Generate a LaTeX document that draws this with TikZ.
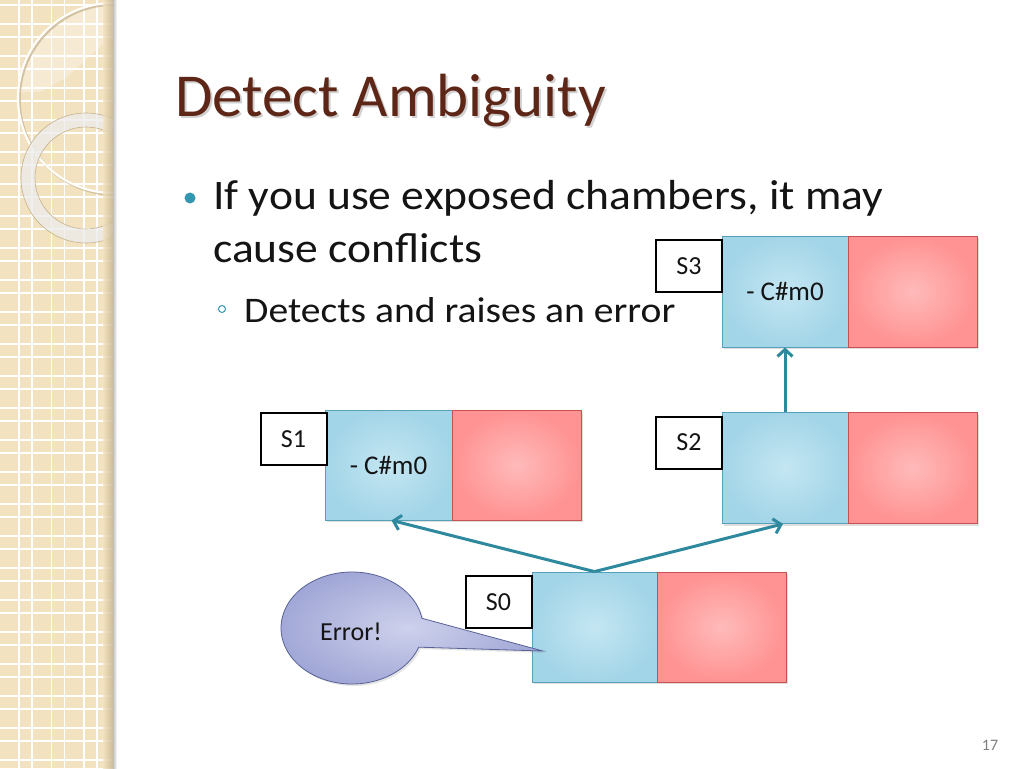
\documentclass[tikz,border=0pt]{standalone}
\usepackage{fontspec}
\setmainfont{Carlito}
\usetikzlibrary{arrows.meta,shadows,calc}
\definecolor{titlec}{RGB}{94,38,22}
\definecolor{arrowc}{RGB}{47,137,158}
\definecolor{bulletc}{RGB}{52,150,176}
\definecolor{bluein}{RGB}{196,230,242}
\definecolor{blueout}{RGB}{163,213,232}
\definecolor{blueedge}{RGB}{86,160,186}
\definecolor{redin}{RGB}{255,186,186}
\definecolor{redout}{RGB}{255,146,146}
\definecolor{rededge}{RGB}{200,80,78}
\definecolor{calin}{RGB}{206,209,236}
\definecolor{calout}{RGB}{160,166,214}
\definecolor{caledge}{RGB}{88,98,150}
\definecolor{stripc}{RGB}{243,226,192}
\definecolor{stripdark}{RGB}{196,178,140}
\definecolor{textc}{RGB}{20,20,20}
\tikzset{
  bluebox/.style={draw=blueedge, line width=0.8pt, inner color=bluein, outer color=blueout,
    minimum width=126pt, minimum height=111pt, inner sep=0pt,
    font=\fontsize{27}{30}\selectfont, text=textc,
    drop shadow={opacity=0.25, shadow xshift=2pt, shadow yshift=-2pt}},
  redbox/.style={draw=rededge, line width=0.8pt, inner color=redin, outer color=redout,
    minimum width=129pt, minimum height=111pt, inner sep=0pt,
    drop shadow={opacity=0.25, shadow xshift=2pt, shadow yshift=-2pt}},
  labbox/.style={draw=black, line width=2pt, fill=white, minimum width=66pt, minimum height=52pt,
    inner sep=0pt, font=\fontsize{26}{30}\selectfont, text=textc},
  conn/.style={draw=arrowc, line width=3pt, -{Straight Barb[length=7pt,width=15pt,line width=3pt]}},
  bodytext/.style={anchor=base west, inner sep=0pt, text=textc}
}
\begin{document}
\begin{tikzpicture}[x=1pt,y=-1pt]
\useasboundingbox (0,0) rectangle (1024,768);
\fill[white] (0,0) rectangle (1024,768);
% ---- decorative strip ----
\fill[stripc] (0,0) rectangle (113,768);
\foreach \x in {19,51.5,84,32,64.5,97}
  \draw[white, line width=1.3pt] (\x,0) -- (\x,768);
\foreach \k in {0,...,23} {
  \draw[white, line width=1.3pt] (0,{5+32*\k}) -- (113,{5+32*\k});
  \draw[white, line width=1.3pt] (0,{24+32*\k}) -- (113,{24+32*\k});
}
\begin{scope}
  \clip (0,0) rectangle (113,768);
  \begin{scope}
    \clip (113,98) circle[radius=95];
    \fill[white, opacity=0.3] (0,0) -- (113,0) -- (113,35) -- (67,77) -- (40,92) -- (0,92) -- cycle;
  \end{scope}
  \draw[stripdark, line width=2.5pt, opacity=0.7] (114.5,99.5) circle[radius=95];
  \draw[white!92!stripc, line width=2.2pt] (113,98) circle[radius=95];
  \draw[white!85!gray, line width=14pt, opacity=0.75] (86,178) circle[radius=58];
  \draw[stripdark, line width=0.6pt] (86,178) circle[radius=65];
  \draw[stripdark, line width=0.6pt] (86,178) circle[radius=51];
\end{scope}
\shade[left color=stripc, right color=stripdark, opacity=0.8] (103,0) rectangle (113,768);
\shade[left color=black!25, right color=white] (113,0) rectangle (117,768);
% ---- title and bullets ----
\node[anchor=base west, inner sep=0pt, text=black, opacity=0.18, font=\fontsize{61}{70}\selectfont] (titleshadow) at (177,118) {Detect Ambiguity};
\node[anchor=base west, inner sep=0pt, text=titlec, font=\fontsize{61}{70}\selectfont] (title) at (175,116) {Detect Ambiguity};
\fill[bulletc] (190,198) circle[radius=5.5];
\node[bodytext, font=\fontsize{42}{48}\selectfont] (l1) at (213,209) {\scalebox{1.085}[1]{If you use exposed chambers, it may}};
\node[bodytext, font=\fontsize{42}{48}\selectfont] (l2) at (213,262) {\scalebox{1.085}[1]{cause conflicts}};
\draw[bulletc, line width=1pt] (222,309) circle[radius=3.5];
\node[bodytext, font=\fontsize{36}{40}\selectfont] (l3) at (244,322) {\scalebox{1.1}[1]{Detects and raises an error}};
% ---- states ----
\node[bluebox] (s3b) at (785,291.5) {- C\#m0};
\node[redbox] (s3r) at (912.5,291.5) {};
\node[bluebox] (s2b) at (785,468) {};
\node[redbox] (s2r) at (912.5,468) {};
\node[bluebox, minimum width=127pt, minimum height=110pt] (s1b) at (388.5,465) {- C\#m0};
\node[redbox, minimum height=110pt] (s1r) at (516.5,465) {};
\node[bluebox, minimum width=125pt, minimum height=110pt] (s0b) at (594.5,627) {};
\node[redbox, minimum height=110pt] (s0r) at (721.5,627) {};
\node[labbox] (l3box) at (689,266) {S3};
\node[labbox] (l2box) at (689,442.5) {S2};
\node[labbox] (l1box) at (293.5,439) {S1};
\node[labbox] (l0box) at (498.5,602) {S0};
% ---- connectors ----
\draw[conn] (s0b.north) -- ([xshift=3pt]s1b.south);
\draw[conn] (s0b.north) -- ([xshift=-2pt]s2b.south);
\draw[conn] (s2b.north) -- (s3b.south);
% ---- callout ----
\coordinate (tip) at (543,651);
\coordinate (cc) at (352,628);
\path[draw=caledge, line width=0.8pt, inner color=calin, outer color=calout,
  drop shadow={opacity=0.2, shadow xshift=2pt, shadow yshift=-2pt}]
  (tip) -- ($(cc)+(20:71 and 56)$) arc[start angle=20, end angle=350, x radius=71, y radius=56] -- cycle;
\node[font=\fontsize{26}{30}\selectfont, text=textc, inner sep=0pt] (err) at (351,632) {Error!};
% ---- page number ----
\node[font=\fontsize{16}{18}\selectfont, text=gray, inner sep=0pt] (pg) at (990,745) {17};
\end{tikzpicture}
\end{document}
